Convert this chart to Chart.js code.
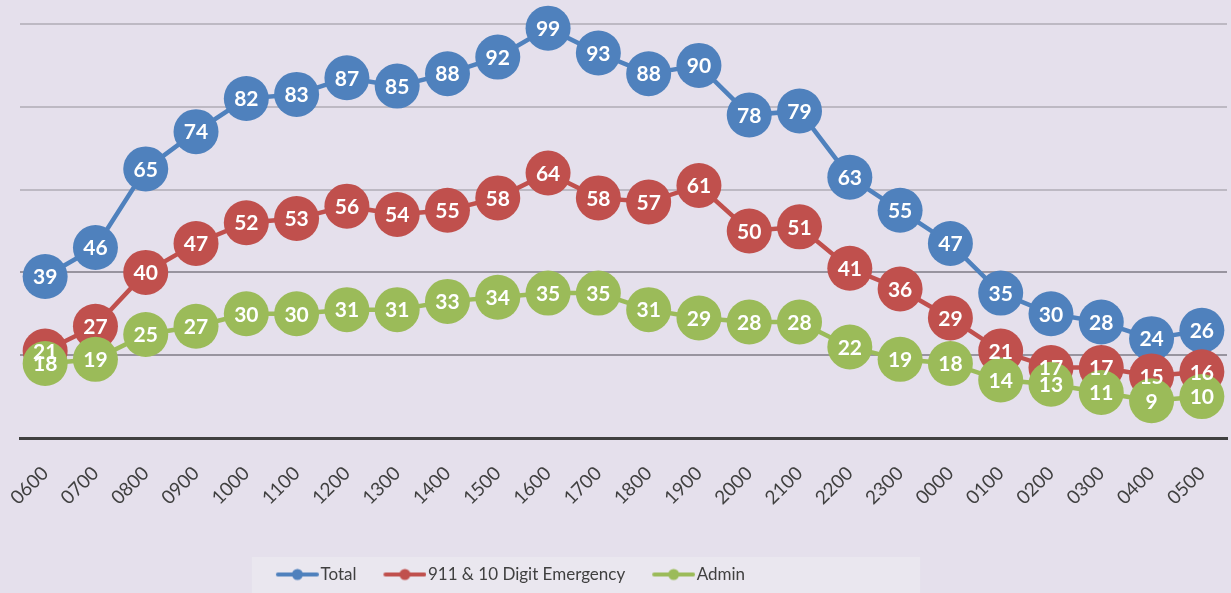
<!DOCTYPE html>
<html>
<head>
<meta charset="utf-8">
<script src="https://cdn.jsdelivr.net/npm/chart.js@4/dist/chart.umd.min.js"></script>
<style>
  html, body { margin: 0; padding: 0; background: #E5E0EC; }
  #wrap { width: 1231px; height: 593px; }
</style>
</head>
<body>
<div id="wrap"><canvas id="myChart" width="1231" height="593"></canvas></div>
<script>
// horas (eixo X)
const horas = ['0600','0700','0800','0900','1000','1100','1200','1300','1400','1500','1600','1700',
  '1800','1900','2000','2100','2200','2300','0000','0100','0200','0300','0400','0500'];

// series
const total = [39,46,65,74,82,83,87,85,88,92,99,93,88,90,78,79,63,55,47,35,30,28,24,26];
const emergencia = [21,27,40,47,52,53,56,54,55,58,64,58,57,61,50,51,41,36,29,21,17,17,15,16];
const admin = [18,19,25,27,30,30,31,31,33,34,35,35,31,29,28,28,22,19,18,14,13,11,9,10];

const nomes = ['Total', '911 & 10 Digit Emergency', 'Admin'];
const cores = ['#4F81BD', '#C0504D', '#9BBB59'];

// icone da legenda: linha com bolinha
function iconeLegenda(cor) {
  const c = document.createElement('canvas');
  c.width = 66; c.height = 14;
  const g = c.getContext('2d');
  g.strokeStyle = cor; g.lineWidth = 4; g.lineCap = 'round';
  g.beginPath(); g.moveTo(25, 7); g.lineTo(64, 7); g.stroke();
  g.fillStyle = cor;
  g.beginPath(); g.arc(44.5, 7, 5.5, 0, Math.PI * 2); g.fill();
  return c;
}

// rotulos dentro dos circulos
const rotulos = {
  id: 'rotulos',
  afterDatasetsDraw(chart) {
    const ctx = chart.ctx;
    ctx.save();
    ctx.font = 'bold 21px Lato';
    ctx.fillStyle = '#FFFFFF';
    ctx.textAlign = 'center';
    ctx.textBaseline = 'middle';
    chart.data.datasets.forEach((ds, i) => {
      chart.getDatasetMeta(i).data.forEach((pt, j) => {
        ctx.fillText(String(ds.data[j]), pt.x, pt.y + 1);
      });
    });
    ctx.restore();
  }
};

// legenda deslocada para a esquerda + fundo claro
const fundoLegenda = {
  id: 'fundoLegenda',
  afterLayout(chart) {
    chart.legend.right -= 242;
  },
  beforeDraw(chart) {
    const boxes = chart.legend.legendHitBoxes;
    if (!boxes || !boxes.length) return;
    const l = Math.min(...boxes.map(b => b.left)) - 8;
    const r = Math.max(...boxes.map(b => b.left + b.width)) + 175;
    const ctx = chart.ctx;
    ctx.save();
    ctx.fillStyle = '#EAE7EF';
    ctx.fillRect(l, chart.legend.top + 2, r - l, chart.height - chart.legend.top);
    ctx.restore();
  }
};

const ctx = document.getElementById('myChart').getContext('2d');
new Chart(ctx, {
  type: 'line',
  data: {
    labels: horas,
    datasets: [total, emergencia, admin].map((d, i) => ({
      label: nomes[i],
      data: d,
      borderColor: cores[i],
      backgroundColor: cores[i],
      pointBackgroundColor: cores[i],
      pointBorderWidth: 0,
      pointRadius: 22.5,
      pointHoverRadius: 22.5,
      borderWidth: 4.5,
      tension: 0,
      clip: false,
      order: 3 - i
    }))
  },
  options: {
    responsive: false,
    animation: false,
    events: [],
    layout: { autoPadding: false, padding: { top: 24, left: 20, right: 4, bottom: 0 } },
    plugins: {
      tooltip: { enabled: false },
      legend: {
        position: 'bottom',
        labels: {
          font: { family: 'Lato', size: 17 },
          color: '#404040',
          usePointStyle: true,
          pointStyleWidth: 52,
          boxHeight: 14,
          padding: 11,
          generateLabels: chart => chart.data.datasets.map((ds, i) => ({
            text: ds.label,
            pointStyle: iconeLegenda(cores[i]),
            fillStyle: cores[i],
            strokeStyle: cores[i],
            lineWidth: 0,
            fontColor: '#404040',
            datasetIndex: i
          }))
        }
      }
    },
    scales: {
      x: {
        offset: true,
        afterFit: s => { s.height = 117; s.paddingLeft = 0; s.paddingRight = 0; },
        grid: { display: false },
        border: { color: '#404040', width: 3 },
        ticks: {
          color: '#404040',
          font: { family: 'Lato', size: 19 },
          minRotation: 45,
          maxRotation: 45,
          padding: 16
        }
      },
      y: {
        min: 0,
        max: 100,
        afterFit: s => { s.width = 0; },
        border: { display: false },
        ticks: { display: false, stepSize: 20 },
        grid: {
          drawTicks: false,
          lineWidth: 2,
          color: c => (c.tick.value <= 40 ? '#98949F' : '#BDB9C3')
        }
      }
    }
  },
  plugins: [rotulos, fundoLegenda]
});
</script>
</body>
</html>
